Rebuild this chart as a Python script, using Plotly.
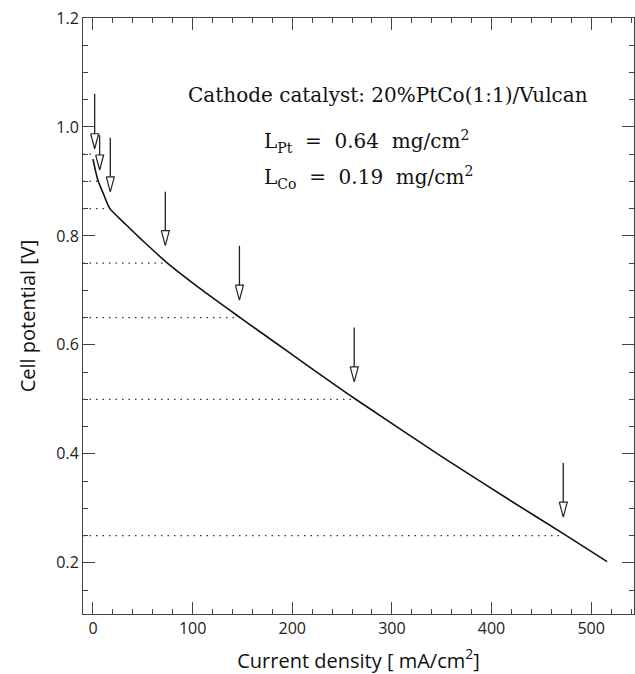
import plotly.graph_objects as go

# ---- data ----
current_density = [0, 5, 11, 16.7, 33.5, 50.1, 73.5, 110, 147, 200, 262.2, 350, 420, 471.6, 516]
cell_potential = [0.941, 0.902, 0.875, 0.851, 0.820, 0.791, 0.752, 0.700, 0.651, 0.582, 0.502, 0.395, 0.313, 0.254, 0.202]

level_potential = [0.95, 0.90, 0.85, 0.75, 0.65, 0.50, 0.25]
level_current = [-1.5, 5, 16.7, 73.5, 147, 262.2, 471.6]

arrow_current = [1.7, 6.7, 17.4, 72.6, 147, 262.2, 472]
arrow_tip = [0.960, 0.921, 0.881, 0.782, 0.682, 0.532, 0.284]
arrow_top = [1.061, 0.985, 0.980, 0.881, 0.782, 0.632, 0.383]

x_major = [0, 100, 200, 300, 400, 500]
y_major = [0.2, 0.4, 0.6, 0.8, 1.0, 1.2]

X_RANGE = [-10, 543]
Y_RANGE = [0.106, 1.2]

# ---- layout geometry (styling) ----
W, H = 635, 674
M = dict(l=83, r=1, t=18, b=60)
HEAD_HALF_W_PX, HEAD_H_PX = 4.0, 15.0
FRAME = "#444444"
px_per_x = (W - M["l"] - M["r"]) / (X_RANGE[1] - X_RANGE[0])
px_per_y = (H - M["t"] - M["b"]) / (Y_RANGE[1] - Y_RANGE[0])
hw = HEAD_HALF_W_PX / px_per_x
hh = HEAD_H_PX / px_per_y

fig = go.Figure()

for v, c in zip(level_potential, level_current):
    fig.add_trace(go.Scatter(
        x=[X_RANGE[0], c], y=[v, v], mode="lines",
        line=dict(color="#333333", width=1.3, dash="1.5px,5px"),
        hoverinfo="skip", showlegend=False))

fig.add_trace(go.Scatter(
    x=current_density, y=cell_potential, mode="lines",
    line=dict(color="#111111", width=1.6, shape="spline", smoothing=0.7),
    showlegend=False))

for x, tip, top in zip(arrow_current, arrow_tip, arrow_top):
    fig.add_trace(go.Scatter(
        x=[x, x], y=[top, tip + hh], mode="lines",
        line=dict(color="#222222", width=1.3),
        hoverinfo="skip", showlegend=False))
    fig.add_trace(go.Scatter(
        x=[x - hw, x + hw, x, x - hw], y=[tip + hh, tip + hh, tip, tip + hh],
        mode="lines", fill="toself", fillcolor="white",
        line=dict(color="#222222", width=1.2),
        hoverinfo="skip", showlegend=False))

serif = "DejaVu Serif"
annotations = [
    dict(text="Cathode catalyst: 20%PtCo(1:1)/Vulcan", xref="paper", yref="paper",
         x=0.187, y=0.871, xanchor="left", yanchor="middle", showarrow=False,
         font=dict(family=serif, size=20, color="#111111")),
    dict(text="L<sub>Pt</sub>&nbsp; = &nbsp;0.64&nbsp; mg/cm<sup>2</sup>",
         xref="paper", yref="paper",
         x=0.325, y=0.793, xanchor="left", yanchor="middle", showarrow=False,
         font=dict(family=serif, size=20, color="#111111")),
    dict(text="L<sub>Co</sub>&nbsp; = &nbsp;0.19&nbsp; mg/cm<sup>2</sup>",
         xref="paper", yref="paper",
         x=0.325, y=0.733, xanchor="left", yanchor="middle", showarrow=False,
         font=dict(family=serif, size=20, color="#111111")),
]

fig.update_layout(
    width=W, height=H,
    margin=M,
    paper_bgcolor="white", plot_bgcolor="white",
    annotations=annotations,
    xaxis=dict(range=X_RANGE, tickvals=x_major, ticktext=[str(v) for v in x_major],
               showline=True, linecolor=FRAME, mirror="allticks",
               ticks="inside", ticklen=12, tickcolor=FRAME,
               minor=dict(dtick=20, ticks="inside", ticklen=5),
               showgrid=False, zeroline=False, tickfont=dict(size=16, color="#222222"),
               title=dict(text="Current density [ mA/cm<sup>2</sup>]",
                          font=dict(size=20, color="#111111"))),
    yaxis=dict(range=Y_RANGE, tickvals=y_major, ticktext=[f"{v:.1f}" for v in y_major],
               showline=True, linecolor=FRAME, mirror="allticks",
               ticks="inside", ticklen=12, tickcolor=FRAME,
               minor=dict(dtick=0.05, ticks="inside", ticklen=5),
               showgrid=False, zeroline=False, tickfont=dict(size=16, color="#222222"),
               title=dict(text="Cell potential [V]",
                          font=dict(size=20, color="#111111"))),
)

fig.write_html("out.html")
